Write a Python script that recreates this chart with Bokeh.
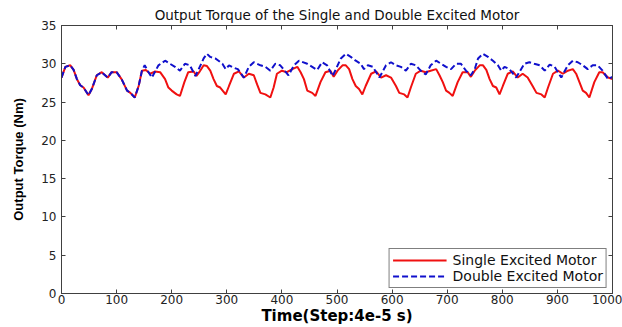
from bokeh.plotting import figure
from bokeh.models import FixedTicker, LinearAxis, Range1d, Legend, LegendItem
from bokeh.embed import file_html
from bokeh.resources import INLINE

# ---- data ----
time_single = [0, 7, 16, 22, 28, 34, 40, 49, 55, 64, 73, 84, 91, 100, 109, 119, 125, 133, 140, 146,
               153, 161, 170, 179, 188, 194, 200, 209, 215, 223, 230, 240, 245, 250, 258, 264, 270, 276,
               282, 288, 298, 304, 313, 322, 331, 340, 349, 355, 361, 370, 379, 385, 391, 400, 409, 419,
               428, 434, 440, 446, 455, 461, 470, 479, 488, 494, 501, 510, 516, 522, 528, 534, 540, 546,
               552, 562, 571, 580, 589, 598, 607, 613, 622, 628, 634, 643, 652, 661, 670, 680, 686, 692,
               698, 704, 710, 719, 728, 737, 743, 750, 759, 765, 771, 777, 783, 789, 795, 801, 810, 819,
               828, 837, 846, 855, 862, 871, 877, 883, 892, 901, 910, 919, 928, 934, 940, 946, 952, 958,
               967, 976, 982, 992, 1000]
torque_single = [28.2, 29.6, 29.8, 29.2, 28.0, 27.2, 26.9, 25.9, 26.7, 28.5, 28.9, 28.2, 28.9, 28.9, 28.0,
                 26.5, 26.2, 25.6, 27.1, 29.1, 29.2, 28.7, 29.0, 28.9, 28.0, 26.9, 26.5, 26.0, 25.8, 27.6,
                 28.9, 29.0, 28.4, 28.9, 29.8, 29.7, 29.1, 28.0, 27.1, 26.9, 26.0, 27.1, 28.7, 29.0, 28.2,
                 28.7, 28.5, 27.3, 26.2, 26.0, 25.6, 26.9, 28.7, 29.1, 28.9, 29.3, 29.6, 28.9, 28.0, 26.5,
                 26.2, 25.8, 27.6, 28.9, 29.1, 28.3, 29.1, 29.8, 29.8, 29.3, 28.0, 27.1, 26.7, 26.0, 27.1,
                 28.7, 29.0, 28.2, 28.5, 28.2, 27.1, 26.2, 26.0, 25.6, 26.9, 28.7, 29.1, 28.9, 29.1, 29.3,
                 28.5, 27.6, 26.5, 26.2, 25.8, 27.6, 28.9, 28.9, 28.3, 29.1, 29.8, 29.8, 29.2, 28.0, 27.1,
                 26.9, 26.0, 27.1, 28.7, 29.0, 28.2, 28.7, 28.2, 27.1, 26.2, 26.0, 25.6, 26.9, 28.7, 29.1,
                 28.7, 29.1, 29.3, 28.7, 27.6, 26.5, 26.2, 25.6, 27.6, 28.9, 28.9, 28.2, 28.0]

time_double = [0, 7, 16, 22, 28, 34, 40, 49, 55, 64, 73, 84, 91, 100, 109, 119, 125, 133, 140, 146,
               151, 158, 164, 176, 188, 197, 206, 215, 224, 233, 243, 249, 258, 264, 270, 279, 285, 292,
               298, 304, 312, 320, 331, 340, 349, 361, 370, 379, 388, 397, 412, 422, 431, 446, 455, 464,
               473, 482, 492, 498, 507, 516, 525, 534, 543, 549, 556, 565, 577, 589, 598, 607, 616, 625,
               634, 643, 652, 661, 670, 680, 689, 698, 707, 716, 725, 734, 743, 750, 756, 765, 774, 783,
               792, 798, 804, 813, 825, 840, 849, 858, 868, 877, 886, 895, 907, 919, 928, 937, 946, 955,
               964, 973, 982, 992, 1000]
torque_double = [28.2, 29.6, 29.8, 29.2, 28.0, 27.2, 26.9, 25.9, 26.7, 28.5, 28.9, 28.2, 28.9, 28.9, 28.0,
                 26.5, 26.2, 25.6, 27.1, 29.1, 29.8, 28.9, 28.2, 29.8, 30.4, 30.0, 29.6, 29.1, 30.0, 29.8,
                 28.4, 29.3, 30.7, 31.3, 30.9, 30.7, 30.4, 30.0, 29.3, 29.8, 29.5, 29.3, 28.2, 29.6, 30.2,
                 29.8, 29.6, 29.1, 30.0, 29.8, 28.5, 29.8, 30.4, 30.0, 29.6, 29.2, 30.2, 29.8, 28.4, 29.3,
                 30.7, 31.3, 30.9, 30.4, 30.0, 29.3, 29.8, 29.6, 28.2, 29.8, 30.2, 29.8, 29.6, 29.1, 30.0,
                 29.8, 29.1, 28.6, 29.8, 30.4, 30.0, 29.6, 29.3, 30.0, 30.0, 29.1, 28.5, 29.3, 30.7, 31.3,
                 30.9, 30.4, 29.8, 29.1, 29.6, 29.3, 28.2, 30.0, 30.2, 30.0, 29.8, 29.1, 29.9, 29.6, 28.2,
                 29.8, 30.4, 30.2, 29.8, 29.3, 29.8, 29.8, 29.1, 28.0, 28.3]

x_ticks = [0, 100, 200, 300, 400, 500, 600, 700, 800, 900, 1000]
y_ticks = [0, 5, 10, 15, 20, 25, 30, 35]
series_names = ["Single Excited Motor", "Double Excited Motor"]

RED = "#f01010"
BLUE = "#1010cc"
AX = "#404040"

p = figure(width=622, height=327, output_backend="svg", toolbar_location=None,
           x_range=Range1d(0, 1000), y_range=Range1d(0, 35),
           min_border_left=61, min_border_right=10, min_border_top=25, min_border_bottom=33,
           title="Output Torque of the Single and Double Excited Motor")
p.background_fill_color = "white"
p.border_fill_color = "white"
p.outline_line_color = AX
p.grid.visible = False

p.title.align = "center"
p.title.text_font = "DejaVu Sans"
p.title.text_font_size = "13.5px"
p.title.text_font_style = "normal"
p.title.text_color = "#111111"
p.title.standoff = 5

red_r = p.line(time_single, torque_single, line_color=RED, line_width=2)
blue_r = p.line(time_double, torque_double, line_color=BLUE, line_width=2, line_dash="6 3")

xa = p.xaxis[0]
xa.ticker = FixedTicker(ticks=x_ticks)
ya = p.yaxis[0]
ya.ticker = FixedTicker(ticks=y_ticks)
for ax in (xa, ya):
    ax.major_tick_in = 4
    ax.major_tick_out = 0
    ax.minor_tick_line_color = None
    ax.axis_line_color = AX
    ax.major_tick_line_color = AX
    ax.major_label_text_font = "DejaVu Sans"
    ax.major_label_text_font_size = "12px"
    ax.major_label_text_color = "#222222"
xa.major_label_standoff = 1
xa.axis_label = "Time(Step:4e-5 s)"
xa.axis_label_text_font = "DejaVu Sans"
xa.axis_label_text_font_size = "15px"
xa.axis_label_text_font_style = "bold"
xa.axis_label_text_color = "#000000"
xa.axis_label_standoff = 0
ya.major_label_standoff = 5
ya.axis_label = "Output Torque (Nm)"
ya.axis_label_text_font = "Liberation Sans"
ya.axis_label_text_font_size = "13px"
ya.axis_label_text_font_style = "bold"
ya.axis_label_text_color = "#000000"
ya.axis_label_standoff = 12

top = LinearAxis(ticker=FixedTicker(ticks=x_ticks))
right = LinearAxis(ticker=FixedTicker(ticks=y_ticks))
for ax in (top, right):
    ax.major_tick_in = 4
    ax.major_tick_out = 0
    ax.minor_tick_line_color = None
    ax.axis_line_color = AX
    ax.major_tick_line_color = AX
    ax.major_label_text_font_size = "1px"
    ax.major_label_text_color = None
    ax.major_label_standoff = 0
p.add_layout(top, "above")
p.add_layout(right, "right")

legend = Legend(items=[LegendItem(label=series_names[0], renderers=[red_r]),
                       LegendItem(label=series_names[1], renderers=[blue_r])],
                location="bottom_right")
legend.label_text_font = "DejaVu Sans"
legend.label_text_font_size = "14px"
legend.label_text_color = "#111111"
legend.glyph_width = 54
legend.glyph_height = 12
legend.label_height = 12
legend.label_standoff = 6
legend.spacing = 0
legend.padding = 3
legend.margin = 5
legend.border_line_color = "#000000"
legend.border_line_width = 1
legend.background_fill_alpha = 1
p.add_layout(legend)

open("out.html", "w").write(file_html(p, INLINE))
